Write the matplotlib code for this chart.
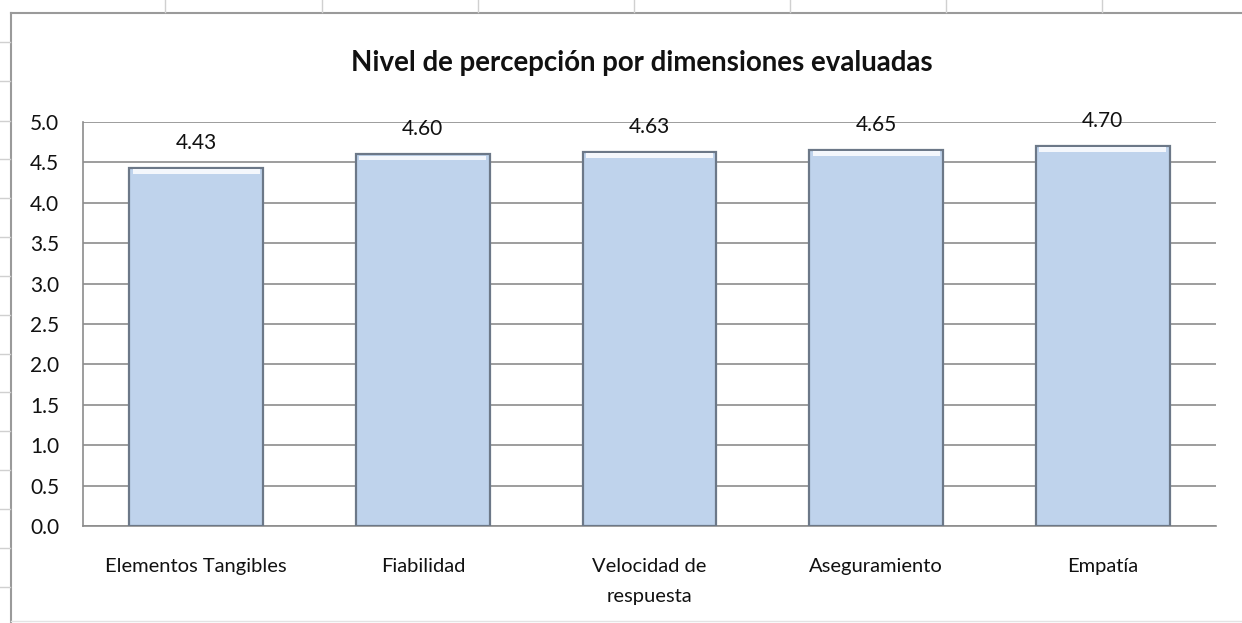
import matplotlib
matplotlib.use("Agg")
import matplotlib.pyplot as plt
from matplotlib.lines import Line2D

categories = ["Elementos Tangibles", "Fiabilidad", "Velocidad de\nrespuesta",
              "Aseguramiento", "Empatía"]
values = [4.43, 4.60, 4.63, 4.65, 4.70]
y_ticks = [0.0, 0.5, 1.0, 1.5, 2.0, 2.5, 3.0, 3.5, 4.0, 4.5, 5.0]

plt.rcParams["font.family"] = ["Lato", "DejaVu Sans"]

W, H = 1242, 623
fig = plt.figure(figsize=(W / 100, H / 100), dpi=100)
fig.patch.set_facecolor("white")

# spreadsheet frame + cell ticks behind the chart
grey = "#9a9a9a"
fig.add_artist(Line2D([11 / W, 11 / W], [0, 1 - 13 / H], color=grey, lw=1.5,
                      transform=fig.transFigure))
fig.add_artist(Line2D([11 / W, 1], [1 - 13 / H, 1 - 13 / H], color=grey, lw=1.5,
                      transform=fig.transFigure))
fig.add_artist(Line2D([11 / W, 1], [1 - 621 / H, 1 - 621 / H], color="#e4e4e4",
                      lw=1, transform=fig.transFigure))
for x in [165, 322, 478, 634, 790, 946, 1102]:
    fig.add_artist(Line2D([x / W, x / W], [1 - 12 / H, 1], color="#d0d0d0", lw=1,
                          transform=fig.transFigure))
for y in [42, 81, 121, 159, 198, 237, 276, 315, 354, 392, 431, 470, 509, 548, 587]:
    fig.add_artist(Line2D([0, 10 / W], [1 - y / H, 1 - y / H], color="#d0d0d0",
                          lw=1, transform=fig.transFigure))

ax = fig.add_axes([83 / W, 1 - 526 / H, (1216 - 83) / W, (526 - 122) / H])
x = range(len(categories))
ax.bar(x, values, width=0.59, color="#bfd3ec", edgecolor="#6c7888",
       linewidth=1.6, zorder=3)
# light bevel along the top of each bar
ax.bar(x, [0.06] * len(values), bottom=[v - 0.075 for v in values], width=0.56,
       color="#f4f7fc", linewidth=0, zorder=4)

for i, v in enumerate(values):
    ax.annotate(f"{v:.2f}", (i, v), xytext=(0, 18), textcoords="offset points",
                ha="center", va="center", fontsize=15, color="#111111", zorder=5)

ax.set_ylim(0, 5)
ax.set_xlim(-0.5, len(categories) - 0.5)
ax.set_yticks(y_ticks)
ax.set_yticklabels([f"{t:.1f}" for t in y_ticks], fontsize=15, color="#111111")
ax.set_xticks(list(x))
ax.set_xticklabels(categories, fontsize=14.5, color="#111111", linespacing=1.9)
ax.tick_params(axis="y", length=0, pad=17)
ax.tick_params(axis="x", length=0, pad=23)
ax.grid(axis="y", color="#8c8c8c", lw=1.2, zorder=0)
ax.set_axisbelow(True)
for side in ["top", "right"]:
    ax.spines[side].set_visible(False)
ax.spines["left"].set_color("#8c8c8c")
ax.spines["left"].set_linewidth(1.2)
ax.spines["bottom"].set_color("#8c8c8c")
ax.spines["bottom"].set_linewidth(1.2)

fig.text(642 / W, 1 - 63 / H, "Nivel de percepción por dimensiones evaluadas",
         ha="center", va="center", fontsize=19.9, fontweight="bold", color="#111111")

fig.savefig("out.png", dpi=100)
